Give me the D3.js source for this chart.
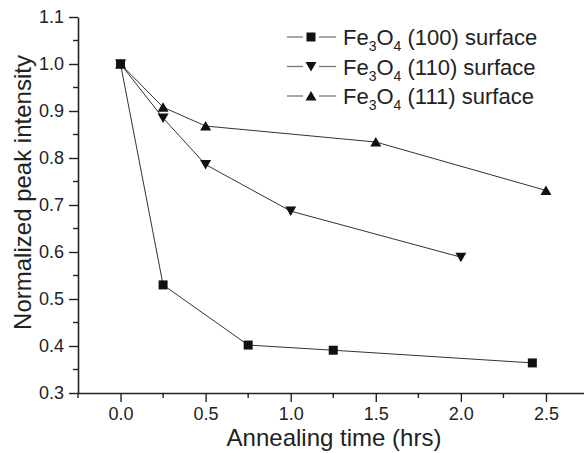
<!DOCTYPE html>
<html><head><meta charset="utf-8">
<script src="https://cdn.jsdelivr.net/npm/d3@7"></script>
<style>
body{margin:0;background:#fff;}
svg{display:block;font-family:"Liberation Sans",Arial,sans-serif;}
</style></head>
<body><svg id="chart" width="584" height="453"></svg>
<script>
const xTicks = [0.0, 0.5, 1.0, 1.5, 2.0, 2.5];
const yTicks = [0.3, 0.4, 0.5, 0.6, 0.7, 0.8, 0.9, 1.0, 1.1];
const s100x = [0, 0.25, 0.75, 1.25, 2.42];
const s100y = [1.0, 0.530, 0.402, 0.391, 0.364];
const s110x = [0, 0.25, 0.5, 1.0, 2.0];
const s110y = [1.0, 0.885, 0.786, 0.687, 0.589];
const s111x = [0, 0.25, 0.5, 1.5, 2.5];
const s111y = [1.0, 0.908, 0.868, 0.834, 0.731];
const seriesNames = ["(100) surface", "(110) surface", "(111) surface"];

const svg = d3.select("#chart");
const x = d3.scaleLinear().domain([-0.25, 2.75]).range([78, 588.5]);
const y = d3.scaleLinear().domain([0.3, 1.1]).range([393, 17]);

const axisColor = "#222";
const xMinor = d3.range(-0.25, 2.76, 0.25).filter(v => Math.abs(v*2 - Math.round(v*2)) > 0.01);
const yMinor = d3.range(0.35, 1.1, 0.1);

const gx = svg.append("g").attr("transform", "translate(0,393)");
gx.call(d3.axisBottom(x).tickValues(xTicks).tickFormat(d3.format(".1f")).tickSize(9).tickPadding(5).tickSizeOuter(0));
gx.selectAll(".minor").data(xMinor).enter().append("line").attr("class","minor")
  .attr("x1", d => x(d)).attr("x2", d => x(d)).attr("y1", 0).attr("y2", 5);

const gy = svg.append("g").attr("transform", "translate(78,0)");
gy.call(d3.axisLeft(y).tickValues(yTicks).tickFormat(d3.format(".1f")).tickSize(9).tickPadding(5).tickSizeOuter(0));
gy.selectAll(".minor").data(yMinor).enter().append("line").attr("class","minor")
  .attr("y1", d => y(d)).attr("y2", d => y(d)).attr("x1", 0).attr("x2", -5);

svg.selectAll(".domain").attr("stroke", axisColor).attr("stroke-width", 1.6);
svg.selectAll(".tick line, line.minor").attr("stroke", axisColor).attr("stroke-width", 1.4);
gx.attr("font-size", 18).attr("font-family", "Liberation Sans, Arial, sans-serif");
gy.attr("font-size", 18).attr("font-family", "Liberation Sans, Arial, sans-serif");
svg.selectAll(".tick text").attr("fill", "#222");

// titles
svg.append("text").attr("x", 334).attr("y", 446).attr("text-anchor", "middle")
  .attr("font-size", 24).attr("fill", "#222").text("Annealing time (hrs)");
svg.append("text").attr("transform", "translate(31,192.5) rotate(-90)").attr("text-anchor", "middle")
  .attr("font-size", 24).attr("fill", "#222").text("Normalized peak intensity");

const line = d3.line().x(d => x(d[0])).y(d => y(d[1]));
const series = [
  {xs: s100x, ys: s100y, shape: "square"},
  {xs: s110x, ys: s110y, shape: "down"},
  {xs: s111x, ys: s111y, shape: "up"}
];
function marker(g, shape, cx, cy) {
  if (shape === "square") {
    g.append("rect").attr("x", cx-4.5).attr("y", cy-4.5).attr("width", 9).attr("height", 9).attr("fill", "#111");
  } else if (shape === "down") {
    g.append("path").attr("d", `M${cx-5.5},${cy-4.5}L${cx+5.5},${cy-4.5}L${cx},${cy+5}Z`).attr("fill", "#111");
  } else {
    g.append("path").attr("d", `M${cx-5.5},${cy+4.5}L${cx+5.5},${cy+4.5}L${cx},${cy-5}Z`).attr("fill", "#111");
  }
}
series.forEach(s => {
  const pts = s.xs.map((v, i) => [v, s.ys[i]]);
  svg.append("path").datum(pts).attr("d", line).attr("fill", "none").attr("stroke", "#333").attr("stroke-width", 1);
});
series.forEach(s => {
  const g = svg.append("g");
  s.xs.forEach((v, i) => marker(g, s.shape, x(v), y(s.ys[i])));
});

// legend
const legY = [37, 66.5, 96];
series.forEach((s, i) => {
  const g = svg.append("g");
  const cy = legY[i];
  g.append("line").attr("x1", 287).attr("x2", 303).attr("y1", cy).attr("y2", cy).attr("stroke", "#777").attr("stroke-width", 1.3);
  g.append("line").attr("x1", 319).attr("x2", 336).attr("y1", cy).attr("y2", cy).attr("stroke", "#777").attr("stroke-width", 1.3);
  marker(g, s.shape, 311, cy);
  const t = g.append("text").attr("x", 343).attr("y", cy + 8).attr("font-size", 22).attr("fill", "#222");
  t.append("tspan").text("Fe");
  t.append("tspan").attr("font-size", 14).attr("dy", 6).text("3");
  t.append("tspan").attr("dy", -6).text("O");
  t.append("tspan").attr("font-size", 14).attr("dy", 6).text("4");
  t.append("tspan").attr("dy", -6).text(" " + seriesNames[i]);
});
</script></body></html>
